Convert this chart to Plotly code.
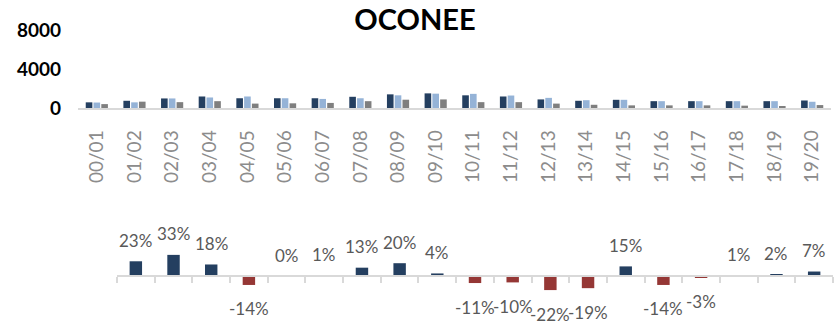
import plotly.graph_objects as go

# School years shown along the top axis
years = ["00/01", "01/02", "02/03", "03/04", "04/05", "05/06", "06/07", "07/08",
         "08/09", "09/10", "10/11", "11/12", "12/13", "13/14", "14/15", "15/16",
         "16/17", "17/18", "18/19", "19/20"]

# Three yearly series (counts)
series_dark = [580, 740, 980, 1180, 1000, 1000, 1000, 1150, 1400, 1500,
               1300, 1180, 880, 740, 840, 700, 700, 700, 700, 770]
series_light = [560, 580, 980, 1080, 1180, 1000, 930, 1000, 1300, 1470,
                1450, 1280, 1040, 800, 840, 700, 700, 700, 700, 640]
series_grey = [400, 650, 600, 700, 450, 480, 520, 700, 850, 880,
               600, 600, 450, 330, 270, 270, 270, 240, 200, 300]

# Year-over-year change (%), one value per year from 01/02 onward
change_years = years[1:]
change_pct = [23, 33, 18, -14, 0, 1, 13, 20, 4, -11, -10, -22, -19, 15,
              -14, -3, 1, 2, 7]

NAVY = "#243F60"
LIGHT = "#95B3D7"
GREY = "#7F7F7F"
RED = "#953735"
W, H = 834, 326
FONT = "Lato"

fig = go.Figure()

for name, vals, col in [("Series 1", series_dark, NAVY),
                        ("Series 2", series_light, LIGHT),
                        ("Series 3", series_grey, GREY)]:
    fig.add_trace(go.Bar(x=years, y=vals, name=name, marker_color=col,
                         marker_line_width=0, xaxis="x", yaxis="y"))

fig.add_trace(go.Bar(
    x=change_years, y=change_pct, name="Change",
    marker_color=[NAVY if v >= 0 else RED for v in change_pct],
    marker_line_width=0, xaxis="x2", yaxis="y2", width=0.33,
))

# Percentage labels beyond the end of each change bar
for yr, v in zip(change_years, change_pct):
    fig.add_annotation(
        x=yr, y=v, xref="x2", yref="y2", text=f"{v}%", showarrow=False,
        yanchor="middle", yshift=21 if v >= 0 else -24,
        font=dict(family=FONT, size=17, color="#595959"),
    )

fig.update_layout(
    width=W, height=H, autosize=False,
    margin=dict(l=0, r=0, t=0, b=0, autoexpand=False),
    paper_bgcolor="white", plot_bgcolor="white",
    showlegend=False,
    barmode="group", bargap=0.38, bargroupgap=0.15,
    title=dict(text="OCONEE", x=415 / W, xanchor="center",
               y=1 - 20 / H, yanchor="middle", yref="paper",
               automargin=False,
               font=dict(family=FONT, size=29, color="black", weight="bold")),
    xaxis=dict(domain=[78 / W, 831 / W], anchor="y", type="category",
               automargin=False,
               showline=True, linecolor="#D9D9D9", linewidth=1.5,
               ticks="", tickangle=-90, ticklabelstandoff=13,
               tickfont=dict(family=FONT, size=19, color="#8C8C8C"),
               showgrid=False, zeroline=False),
    yaxis=dict(domain=[(H - 108) / H, (H - 30) / H], anchor="x",
               automargin=False,
               range=[0, 8000], tickvals=[0, 4000, 8000],
               showgrid=False, zeroline=False, showline=False,
               ticklabelstandoff=16,
               tickfont=dict(family=FONT, size=19, color="black", weight="bold")),
    xaxis2=dict(domain=[117 / W, 833 / W], anchor="y2", type="category",
                automargin=False,
                showline=True, linecolor="#D9D9D9", linewidth=1.5,
                ticks="outside", tickson="boundaries", ticklen=6,
                tickcolor="#D9D9D9", tickwidth=1.5,
                showticklabels=False, showgrid=False, zeroline=False),
    yaxis2=dict(domain=[(H - 308) / H, (H - 244) / H], anchor="x2",
                automargin=False,
                range=[-50, 50], visible=False, showgrid=False,
                zeroline=False),
)

# Bottom axis line sits on the zero level of the change bars
fig.layout.xaxis2.anchor = "free"
fig.layout.xaxis2.position = (H - 276) / H

fig.write_html("out.html")
